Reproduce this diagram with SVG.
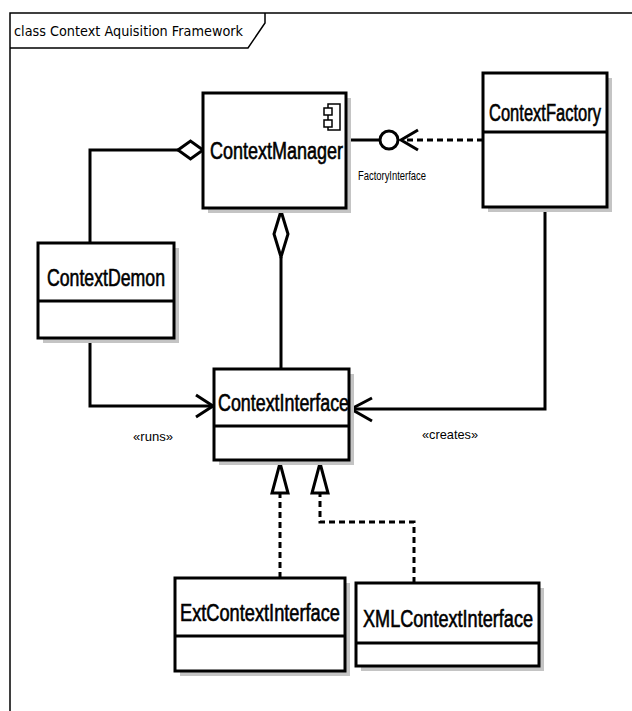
<svg xmlns="http://www.w3.org/2000/svg" width="632" height="711" viewBox="0 0 632 711">
  <style>
    .shadow { fill: #c4c4c4; }
    .box { fill: #ffffff; stroke: #000000; stroke-width: 3; }
    .sep { stroke: #000000; stroke-width: 3; }
    .name { font-family: "Liberation Sans", Arial, sans-serif; font-size: 23px; fill: #000000; stroke: #000000; stroke-width: 0.6; }
    .line { fill: none; stroke: #000000; stroke-width: 3; }
    .dash { fill: none; stroke: #000000; stroke-width: 3; stroke-dasharray: 6 4; }
    .hollow { fill: #ffffff; stroke: #000000; stroke-width: 3; stroke-linejoin: miter; }
    .label { font-family: "Liberation Sans", Arial, sans-serif; font-size: 13px; fill: #000000; }
    .frame { fill: none; stroke: #000000; stroke-width: 1.5; }
  </style>

  <rect width="632" height="711" fill="#ffffff"/>

  <!-- diagram frame with title tab -->
  <g id="frame">
    <path class="frame" d="M10,711 L10,13 L632,13"/>
    <path class="frame" d="M10,48 L248,48 L265,23 L265,13"/>
    <text x="14" y="36" font-family="'DejaVu Sans', Tahoma, sans-serif" font-size="14" textLength="229" lengthAdjust="spacingAndGlyphs">class Context Aquisition Framework</text>
  </g>

  <!-- connectors -->
  <g id="connectors">
    <!-- ContextDemon aggregated by ContextManager -->
    <path class="line" d="M90,243 L90,150 L178,150"/>
    <path class="hollow" d="M178,150 L190.5,141 L203,150 L190.5,159 Z"/>

    <!-- ContextInterface aggregated by ContextManager -->
    <path class="line" d="M281,369 L281,257"/>
    <path class="hollow" d="M281,211 L288,234 L281,257 L274,234 Z"/>

    <!-- provided FactoryInterface lollipop and dependency from ContextFactory -->
    <path class="line" d="M346,140 L380,140"/>
    <circle cx="389" cy="140" r="9" fill="#ffffff" stroke="#000000" stroke-width="3"/>
    <path class="dash" d="M483,140 L402,140"/>
    <path class="line" d="M418,130 L401,140 L418,150"/>
    <text class="label" x="358" y="180" font-size="12" textLength="68" lengthAdjust="spacingAndGlyphs">FactoryInterface</text>

    <!-- ContextDemon runs ContextInterface -->
    <path class="line" d="M90,340 L90,406 L213,406"/>
    <path class="line" d="M196,395 L213,406 L196,417"/>
    <text class="label" x="133" y="441" textLength="40" lengthAdjust="spacingAndGlyphs">«runs»</text>

    <!-- ContextFactory creates ContextInterface -->
    <path class="line" d="M545,207 L545,409 L350,409"/>
    <path class="line" d="M372,398 L351,409 L372,421"/>
    <text class="label" x="422" y="439" textLength="56" lengthAdjust="spacingAndGlyphs">«creates»</text>

    <!-- realizations of ContextInterface -->
    <path class="dash" d="M280,578 L280,493"/>
    <path class="hollow" d="M280,463 L288,493 L272,493 Z"/>
    <path class="dash" d="M414,583 L414,522 L320,522 L320,493"/>
    <path class="hollow" d="M320,463 L328,493 L312,493 Z"/>
  </g>

  <!-- classes -->
  <g id="ContextManager">
    <rect class="shadow" x="208" y="98" width="143" height="115"/>
    <rect class="box" x="203" y="93" width="143" height="115"/>
    <g fill="#ffffff" stroke="#000000" stroke-width="1.5">
      <rect x="328" y="104" width="12" height="26"/>
      <rect x="324" y="108" width="8" height="7"/>
      <rect x="324" y="120" width="8" height="7"/>
    </g>
    <text class="name" x="210" y="159" textLength="133" lengthAdjust="spacingAndGlyphs">ContextManager</text>
  </g>

  <g id="ContextFactory">
    <rect class="shadow" x="488" y="78" width="124" height="134"/>
    <rect class="box" x="483" y="73" width="124" height="134"/>
    <line class="sep" x1="483" y1="132" x2="607" y2="132"/>
    <text class="name" x="489" y="121" textLength="112" lengthAdjust="spacingAndGlyphs">ContextFactory</text>
  </g>

  <g id="ContextDemon">
    <rect class="shadow" x="43" y="248" width="136" height="95"/>
    <rect class="box" x="38" y="243" width="136" height="95"/>
    <line class="sep" x1="38" y1="301" x2="174" y2="301"/>
    <text class="name" x="47" y="286" textLength="118" lengthAdjust="spacingAndGlyphs">ContextDemon</text>
  </g>

  <g id="ContextInterface">
    <rect class="shadow" x="219" y="374" width="135" height="91"/>
    <rect class="box" x="214" y="369" width="135" height="91"/>
    <line class="sep" x1="214" y1="426" x2="349" y2="426"/>
    <text class="name" x="218" y="411" textLength="131" lengthAdjust="spacingAndGlyphs">ContextInterface</text>
  </g>

  <g id="ExtContextInterface">
    <rect class="shadow" x="180" y="583" width="170" height="93"/>
    <rect class="box" x="175" y="578" width="170" height="93"/>
    <line class="sep" x1="175" y1="636" x2="345" y2="636"/>
    <text class="name" x="180" y="621" textLength="160" lengthAdjust="spacingAndGlyphs">ExtContextInterface</text>
  </g>

  <g id="XMLContextInterface">
    <rect class="shadow" x="361" y="588" width="183" height="83"/>
    <rect class="box" x="356" y="583" width="183" height="83"/>
    <line class="sep" x1="356" y1="643" x2="539" y2="643"/>
    <text class="name" x="363" y="627" textLength="170" lengthAdjust="spacingAndGlyphs">XMLContextInterface</text>
  </g>
</svg>
